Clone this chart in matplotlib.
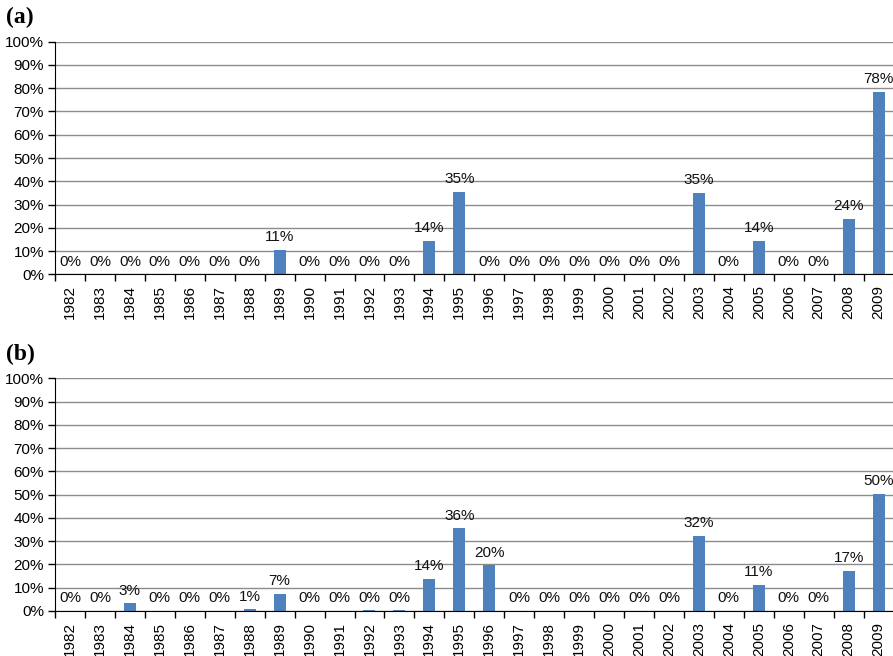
import numpy as np
import matplotlib
matplotlib.use("Agg")
import matplotlib.pyplot as plt
from matplotlib.ticker import FixedLocator

years = [str(y) for y in range(1982, 2010)]

# panel (a) shares, percent
share_a = [0, 0, 0, 0, 0, 0, 0, 10.6, 0, 0, 0, 0, 14.4, 35.4, 0, 0, 0, 0,
           0, 0, 0, 35.1, 0, 14.4, 0, 0, 23.8, 78.4]
# panel (b) shares, percent
share_b = [0, 0, 3.4, 0, 0, 0, 0.8, 7.3, 0, 0, 0.3, 0.3, 13.9, 35.6, 19.7, 0,
           0, 0, 0, 0, 0, 32.4, 0, 11.2, 0, 0, 17.2, 50.4]
panel_labels = ["(a)", "(b)"]

plt.rcParams["font.family"] = ["Liberation Sans", "DejaVu Sans"]

fig = plt.figure(figsize=(8.93, 6.56), dpi=100)
W, H = 893.0, 656.0
boxes = [(55, 41.7, 274.3), (55, 378.3, 611.0)]
bar_color = "#4F81BD"
fs = 11

for (left, top, bottom), vals, lab in zip(boxes, [share_a, share_b], panel_labels):
    ax = fig.add_axes([left / W, 1 - bottom / H, 838.6 / W, (bottom - top) / H])
    x = np.arange(len(years))
    ax.bar(x, vals, width=0.4, color=bar_color, zorder=3)
    for xi, v in zip(x, vals):
        ax.annotate(f"{round(v):d}%", (xi, v), xytext=(0, 4), textcoords="offset points",
                    ha="center", va="bottom", fontsize=fs, color="#111111", zorder=4)
    ax.set_xlim(-0.5, len(years) - 0.5)
    ax.set_ylim(0, 100)
    ax.set_yticks(np.arange(0, 101, 10))
    ax.set_yticklabels([f"{t}%" for t in range(0, 101, 10)], fontsize=fs)
    ax.yaxis.grid(True, color="#8c8c8c", linewidth=1.0, zorder=0)
    ax.set_xticks(x)
    ax.set_xticklabels(years, rotation=90, fontsize=fs)
    ax.xaxis.set_minor_locator(FixedLocator(np.arange(-0.5, len(years), 1.0)))
    ax.tick_params(axis="x", which="major", length=0, pad=8)
    ax.tick_params(axis="x", which="minor", length=5, width=1, color="black", direction="out")
    ax.tick_params(axis="y", length=5, width=1, color="black", pad=3)
    for s in ["top", "right"]:
        ax.spines[s].set_visible(False)
    ax.spines["bottom"].set_color("black")
    ax.spines["left"].set_color("black")
    ax.spines["bottom"].set_zorder(5)
    fig.text(6 / W, 1 - (top - 24) / H, lab, fontsize=17, fontweight="bold",
             family="Liberation Serif", ha="left", va="center")

fig.savefig("out.png", dpi=100)
